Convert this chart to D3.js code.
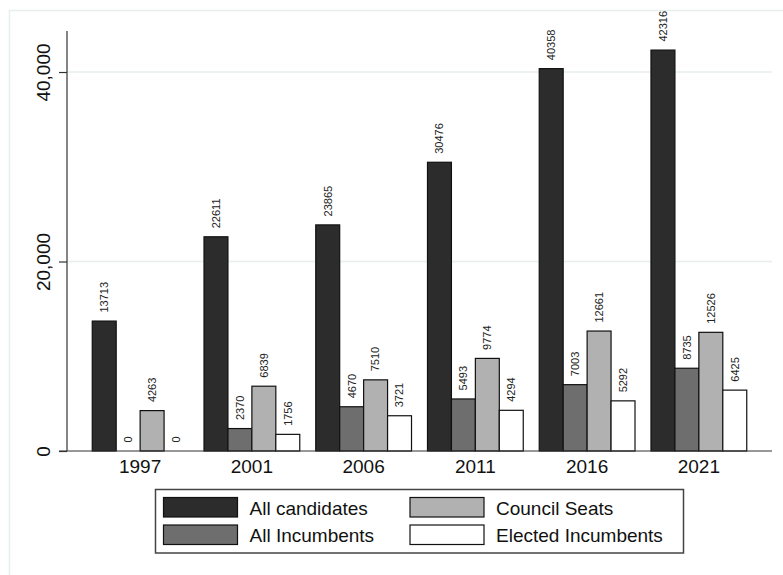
<!DOCTYPE html>
<html>
<head>
<meta charset="utf-8">
<script src="https://cdn.jsdelivr.net/npm/d3@7"></script>
<style>
  body { margin: 0; background: #fff; }
  svg { font-family: "Liberation Sans", Arial, sans-serif; }
</style>
</head>
<body>
<svg id="chart" width="783" height="575"></svg>
<script>
let years = ['1997', '2001', '2006', '2011', '2016', '2021'];
let allCandidates = [13713, 22611, 23865, 30476, 40358, 42316];
let allIncumbents = [0, 2370, 4670, 5493, 7003, 8735];
let councilSeats = [4263, 6839, 7510, 9774, 12661, 12526];
let electedIncumbents = [0, 1756, 3721, 4294, 5292, 6425];
let seriesNames = ['All candidates', 'All Incumbents', 'Council Seats', 'Elected Incumbents'];
let yTicks = [0, 20000, 40000];

let seriesValues = [allCandidates, allIncumbents, councilSeats, electedIncumbents];
let fills = ['#2c2c2c', '#6e6e6e', '#b1b1b1', '#ffffff'];

let svg = d3.select('#chart');

// faint graph region frame
svg.append('rect')
    .attr('x', 9.5).attr('y', 10.5)
    .attr('width', 800).attr('height', 600)
    .attr('fill', 'none')
    .attr('stroke', '#e6eef0')
    .attr('stroke-width', 1.5);

let plotL = 67, plotR = 772, plotT = 31, plotB = 451;

let y = d3.scaleLinear()
    .domain([0, 44330])
    .range([plotB, plotT]);

let x0 = d3.scaleBand()
    .domain(years)
    .range([plotL, plotR])
    .paddingInner(0.143)
    .paddingOuter(0.226);

let x1 = d3.scaleBand()
    .domain(d3.range(seriesNames.length))
    .range([0, x0.bandwidth()]);

// gridlines
svg.append('g')
    .selectAll('line')
    .data(yTicks.filter(d => d > 0))
    .enter().append('line')
    .attr('x1', plotL).attr('x2', plotR)
    .attr('y1', d => y(d)).attr('y2', d => y(d))
    .attr('stroke', '#e6eef0')
    .attr('stroke-width', 1.5);

// bars
let rows = years.map((yr, i) => seriesValues.map((vals, s) => ({ year: yr, s: s, value: vals[i] })));

let groups = svg.append('g')
    .selectAll('g')
    .data(rows)
    .enter().append('g')
    .attr('transform', (d, i) => 'translate(' + x0(years[i]) + ',0)');

groups.selectAll('rect')
    .data(d => d.filter(e => e.value > 0))
    .enter().append('rect')
    .attr('x', d => x1(d.s))
    .attr('y', d => y(d.value))
    .attr('width', x1.bandwidth())
    .attr('height', d => y(0) - y(d.value))
    .attr('fill', d => fills[d.s])
    .attr('stroke', '#111')
    .attr('stroke-width', 1.2);

groups.selectAll('text')
    .data(d => d)
    .enter().append('text')
    .attr('transform', d => 'translate(' + (x1(d.s) + x1.bandwidth() / 2) + ',' + (y(d.value) - 8.5) + ') rotate(-90)')
    .attr('dy', '0.35em')
    .attr('text-anchor', 'start')
    .attr('font-size', 11)
    .attr('fill', '#222')
    .text(d => d.value);

// y axis
let yAxis = d3.axisLeft(y)
    .tickValues(yTicks)
    .tickSize(8)
    .tickFormat(d3.format(','));

let gy = svg.append('g')
    .attr('transform', 'translate(' + plotL + ',0)')
    .call(yAxis);
gy.select('.domain').remove();
gy.append('line')
    .attr('x1', 0).attr('x2', 0)
    .attr('y1', plotT).attr('y2', plotB)
    .attr('stroke', '#333').attr('stroke-width', 1.2);
gy.selectAll('.tick line').attr('stroke', '#333').attr('stroke-width', 1.2);
gy.selectAll('.tick text')
    .attr('x', null).attr('dy', null)
    .attr('transform', 'translate(-24,0) rotate(-90)')
    .attr('text-anchor', 'middle')
    .attr('dominant-baseline', 'central')
    .attr('font-size', 19)
    .attr('font-family', '"Liberation Sans", Arial, sans-serif')
    .attr('fill', '#111');

// x axis
svg.append('line')
    .attr('x1', plotL - 8).attr('x2', plotR)
    .attr('y1', plotB).attr('y2', plotB)
    .attr('stroke', '#333').attr('stroke-width', 1.2);

svg.append('g')
    .selectAll('text')
    .data(years)
    .enter().append('text')
    .attr('x', d => x0(d) + x0.bandwidth() / 2)
    .attr('y', 473)
    .attr('text-anchor', 'middle')
    .attr('font-size', 19)
    .attr('fill', '#111')
    .text(d => d);

// legend
let legend = svg.append('g');
legend.append('rect')
    .attr('x', 155.5).attr('y', 489.5)
    .attr('width', 528).attr('height', 63.5)
    .attr('fill', '#fff')
    .attr('stroke', '#444')
    .attr('stroke-width', 1.5);

let legendPos = [
    { x: 163.5, y: 497.5 },
    { x: 163.5, y: 525 },
    { x: 410, y: 497.5 },
    { x: 410, y: 525 }
];

let items = legend.selectAll('g.item')
    .data(seriesNames)
    .enter().append('g')
    .attr('class', 'item')
    .attr('transform', (d, i) => 'translate(' + legendPos[i].x + ',' + legendPos[i].y + ')');

items.append('rect')
    .attr('width', 74).attr('height', 19.5)
    .attr('fill', (d, i) => fills[i])
    .attr('stroke', '#111')
    .attr('stroke-width', 1.2);

items.append('text')
    .attr('x', 86)
    .attr('y', 17)
    .attr('font-size', 19)
    .attr('fill', '#111')
    .text(d => d);
</script>
</body>
</html>
